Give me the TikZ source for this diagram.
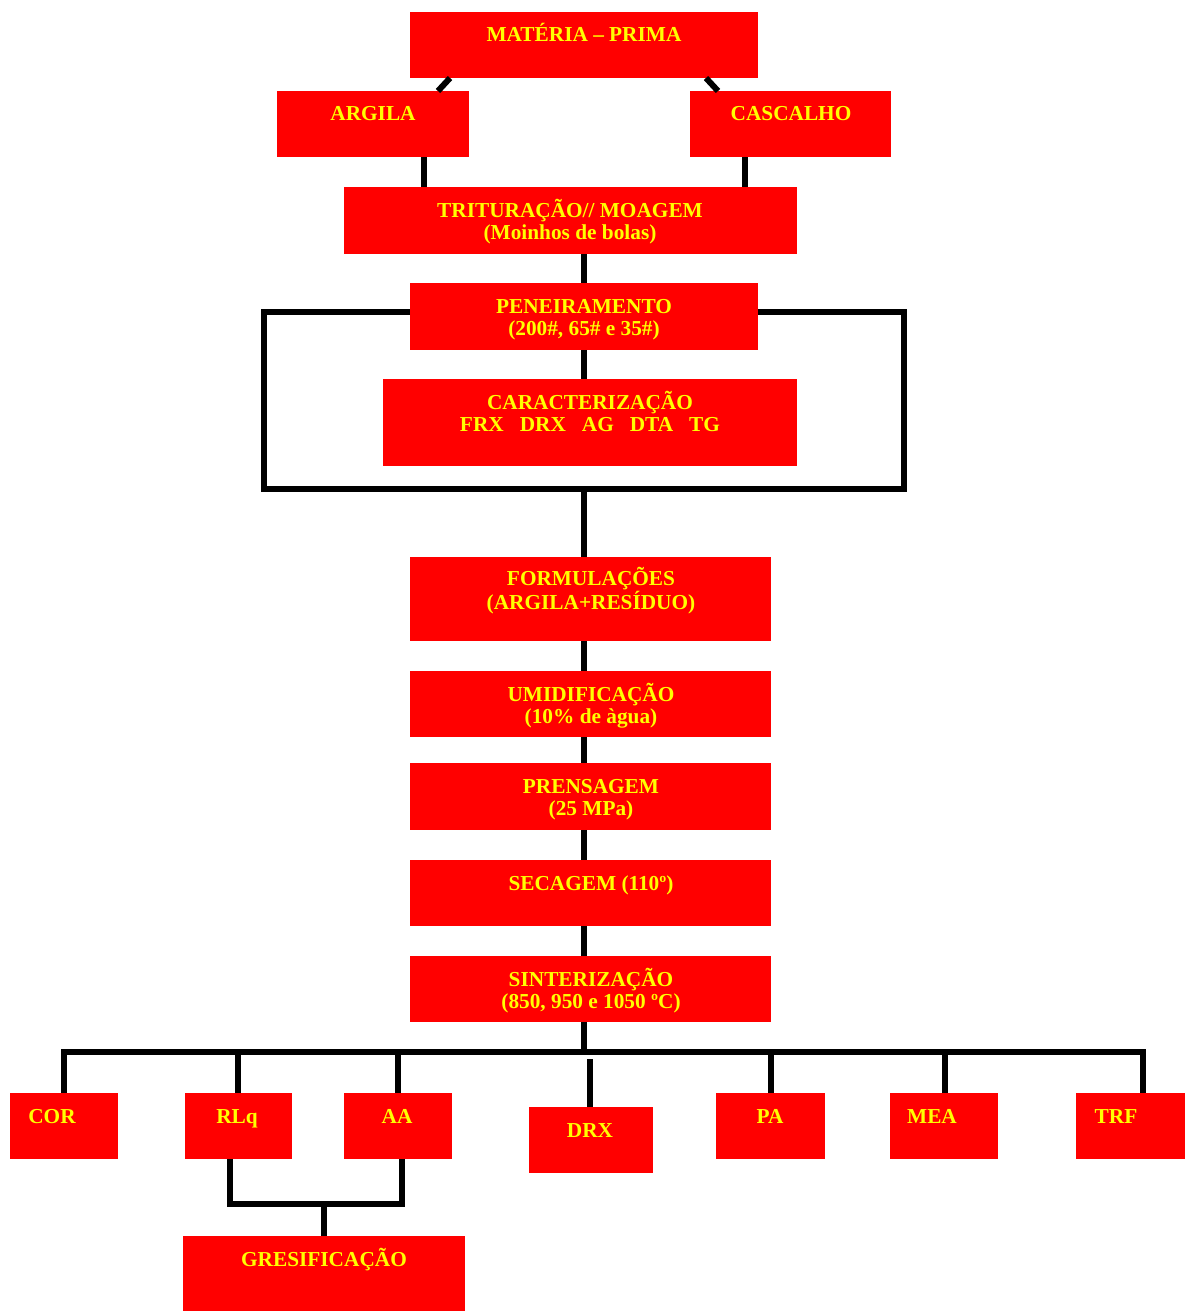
\documentclass[tikz,border=0pt]{standalone}
\usepackage{fontspec}
\setmainfont{Liberation Serif}
\usetikzlibrary{calc}
\definecolor{boxred}{RGB}{255,0,0}
\definecolor{txtyellow}{RGB}{255,255,0}
\begin{document}
\begin{tikzpicture}[x=1pt,y=-1pt,
  box/.style={fill=boxred, draw=none, inner sep=0pt, outer sep=0pt},
  lbl/.style={text=txtyellow, font=\bfseries\fontsize{21.3}{22}\selectfont, align=center, inner sep=0pt, anchor=base},
  conn/.style={line width=6pt, draw=black}]
\useasboundingbox[fill=white] (0,0) rectangle (1191,1311);

% boxes
\node[box, minimum width=348pt, minimum height=66pt] (mp)   at (584,45) {};
\node[box, minimum width=192pt, minimum height=66pt] (arg)  at (373,124) {};
\node[box, minimum width=201pt, minimum height=66pt] (cas)  at (790.5,124) {};
\node[box, minimum width=453pt, minimum height=67pt] (tri)  at (570.5,220.5) {};
\node[box, minimum width=348pt, minimum height=67pt] (pen)  at (584,316.5) {};
\node[box, minimum width=414pt, minimum height=87pt] (car)  at (590,422.5) {};
\node[box, minimum width=361pt, minimum height=84pt] (form) at (590.5,599) {};
\node[box, minimum width=361pt, minimum height=66pt] (umi)  at (590.5,704) {};
\node[box, minimum width=361pt, minimum height=67pt] (pre)  at (590.5,796.5) {};
\node[box, minimum width=361pt, minimum height=66pt] (sec)  at (590.5,893) {};
\node[box, minimum width=361pt, minimum height=66pt] (sin)  at (590.5,989) {};
\node[box, minimum width=108pt, minimum height=66pt] (cor)  at (64,1126) {};
\node[box, minimum width=107pt, minimum height=66pt] (rlq)  at (238.5,1126) {};
\node[box, minimum width=108pt, minimum height=66pt] (aa)   at (398,1126) {};
\node[box, minimum width=124pt, minimum height=66pt] (drx)  at (591,1140) {};
\node[box, minimum width=109pt, minimum height=66pt] (pa)   at (770.5,1126) {};
\node[box, minimum width=108pt, minimum height=66pt] (mea)  at (944,1126) {};
\node[box, minimum width=109pt, minimum height=66pt] (trf)  at (1130.5,1126) {};
\node[box, minimum width=282pt, minimum height=75pt] (gre)  at (324,1273.5) {};

% labels (anchor = baseline of the last line)
\node[lbl] (tmp)  at (584,42)   {MATÉRIA – PRIMA};
\node[lbl] (targ) at (373,121)  {ARGILA};
\node[lbl] (tcas) at (791,121)  {CASCALHO};
\node[lbl] (ttri) at (570,239)  {TRITURAÇÃO// MOAGEM\\(Moinhos de bolas)};
\node[lbl] (tpen) at (584,335)  {PENEIRAMENTO\\(200\#, 65\# e 35\#)};
\node[lbl] (tcar) at (590,431)  {CARACTERIZAÇÃO\\FRX\hspace{16pt}DRX\hspace{16pt}AG\hspace{16pt}DTA\hspace{16pt}TG};
\node[lbl] (tfor) at (591,609)  {FORMULAÇÕES\\(ARGILA+RESÍDUO)};
\node[lbl] (tumi) at (591,723)  {UMIDIFICAÇÃO\\(10\% de àgua)};
\node[lbl] (tpre) at (591,815)  {PRENSAGEM\\(25 MPa)};
\node[lbl] (tsec) at (591,890)  {SECAGEM (110º)};
\node[lbl] (tsin) at (591,1008) {SINTERIZAÇÃO\\(850, 950 e 1050 ºC)};
\node[lbl] (tcor) at (52,1123)  {COR};
\node[lbl] (trlq) at (237,1123) {RLq};
\node[lbl] (taa)  at (397,1123) {AA};
\node[lbl] (tdrx) at (590,1137) {DRX};
\node[lbl] (tpa)  at (770,1123) {PA};
\node[lbl] (tmea) at (932,1123) {MEA};
\node[lbl] (ttrf) at (1116,1123) {TRF};
\node[lbl] (tgre) at (324,1266) {GRESIFICAÇÃO};

% helper coordinates
\coordinate (fTL) at (264,312);
\coordinate (fBL) at (264,489);
\coordinate (fBR) at (904,489);
\coordinate (fTR) at (904,312);
\coordinate (fB)  at (584,489);
\coordinate (busC) at (584,1052);
\coordinate (busL) at (64,1052);
\coordinate (busR) at (1143,1052);
\coordinate (gL) at (230,1204);
\coordinate (gR) at (402,1204);
\coordinate (gC) at (324,1204);

% connectors
\draw[conn] (mp.south -| 450,0) -- (arg.north -| 438,0);
\draw[conn] (mp.south -| 706,0) -- (cas.north -| 718,0);
\draw[conn] (arg.south -| 424,0) -- (tri.north -| 424,0);
\draw[conn] (cas.south -| 745,0) -- (tri.north -| 745,0);
\draw[conn] (tri.south -| 584,0) -- (pen.north);
\draw[conn] (pen.south) -- (car.north -| pen.south);
\draw[conn] (pen.west |- fTL) -- (fTL) -- (fBL) -- (fBR) -- (fTR) -- (pen.east |- fTR);
\draw[conn] (fB) -- (form.north -| fB);
\draw[conn] (form.south -| 584,0) -- (umi.north -| 584,0);
\draw[conn] (umi.south -| 584,0) -- (pre.north -| 584,0);
\draw[conn] (pre.south -| 584,0) -- (sec.north -| 584,0);
\draw[conn] (sec.south -| 584,0) -- (sin.north -| 584,0);
\draw[conn] (sin.south -| busC) -- (busC);
\draw[conn] (cor.north -| busL) -- (busL) -- (busR) -- (trf.north -| busR);
\draw[conn] (rlq.north -| 238,0) -- (238,1052);
\draw[conn] (aa.north -| 398,0) -- (398,1052);
\draw[conn] (pa.north -| 771,0) -- (771,1052);
\draw[conn] (mea.north -| 945,0) -- (945,1052);
\draw[conn] (590,1059) -- (drx.north -| 590,0);
\draw[conn] (rlq.south -| gL) -- (gL) -- (gR) -- (aa.south -| gR);
\draw[conn] (gC) -- (gre.north -| gC);
\end{tikzpicture}
\end{document}
